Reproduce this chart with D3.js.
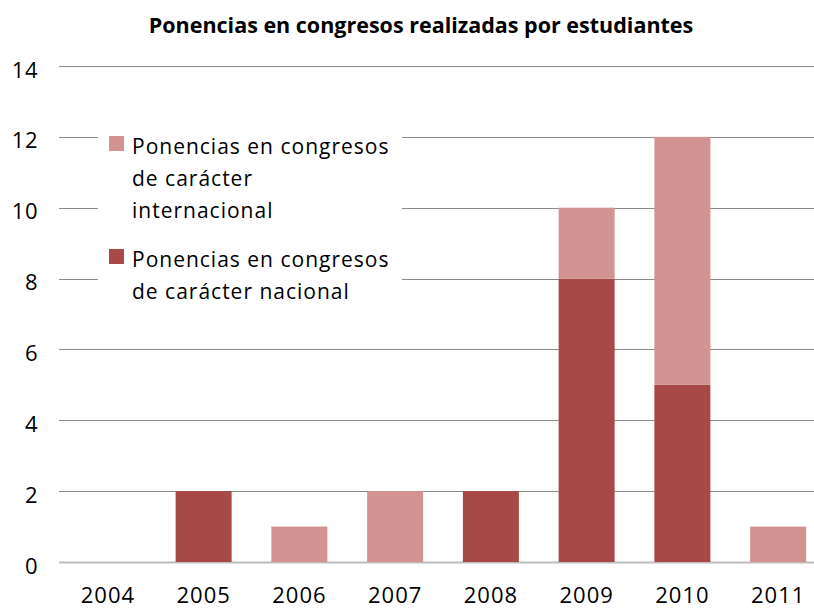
<!DOCTYPE html>
<html>
<head>
<meta charset="utf-8">
<script src="https://cdn.jsdelivr.net/npm/d3@7"></script>
<style>
  body { margin: 0; background: #fff; }
  svg { display: block; font-family: "Open Sans", sans-serif; }
</style>
</head>
<body>
<svg id="chart"></svg>
<script>
// data
var years = ["2004", "2005", "2006", "2007", "2008", "2009", "2010", "2011"];
var nacional = [0, 2, 0, 0, 2, 8, 5, 0];
var internacional = [0, 0, 1, 2, 0, 2, 7, 1];
var yTicks = [0, 2, 4, 6, 8, 10, 12, 14];
var seriesNames = ["Ponencias en congresos de carácter nacional",
                   "Ponencias en congresos de carácter internacional"];
var legendLines = [
  ["Ponencias en congresos", "de carácter", "internacional"],
  ["Ponencias en congresos", "de carácter nacional"]
];

var screen = {width: 814, height: 613};
var margins = {top: 66, left: 60, bottom: 51};
var colors = {nac: "#a94947", int: "#d29392"};

var svg = d3.select("#chart")
            .attr("width", screen.width)
            .attr("height", screen.height);

var rows = years.map(function(y, i) {
  return {year: y, nac: nacional[i], int: internacional[i]};
});

var xScale = d3.scaleBand()
               .domain(years)
               .range([margins.left, 826])
               .paddingInner(0.415)
               .paddingOuter(0.2075);

var yScale = d3.scaleLinear()
               .domain([0, 14])
               .range([screen.height - margins.bottom, margins.top]);

// gridlines
svg.append("g")
   .selectAll("line")
   .data(yTicks)
   .enter()
   .append("line")
   .attr("x1", margins.left - 1)
   .attr("x2", screen.width)
   .attr("y1", function(d) { return Math.round(yScale(d)) + 0.5; })
   .attr("y2", function(d) { return Math.round(yScale(d)) + 0.5; })
   .attr("stroke", function(d) { return d == 0 ? "#bdbdbd" : "#8a8a8a"; })
   .attr("stroke-width", function(d) { return d == 0 ? 2 : 1; });

// y axis labels
var yAxis = d3.axisLeft(yScale).tickValues(yTicks).tickSize(0).tickPadding(0);
svg.append("g")
   .attr("transform", "translate(38,4)")
   .call(yAxis)
   .call(function(g) { g.select(".domain").remove(); })
   .selectAll("text")
   .attr("font-family", "Open Sans, sans-serif")
   .attr("font-size", 22)
   .attr("letter-spacing", 0.5)
   .attr("fill", "#000");

// x axis labels
var xAxis = d3.axisBottom(xScale).tickSize(0).tickPadding(0);
svg.append("g")
   .attr("transform", "translate(0,587)")
   .call(xAxis)
   .call(function(g) { g.select(".domain").remove(); })
   .selectAll("text")
   .attr("font-family", "Open Sans, sans-serif")
   .attr("font-size", 22)
   .attr("letter-spacing", 1)
   .attr("fill", "#000");

// stacked bars
var stack = d3.stack().keys(["nac", "int"]);
var layers = stack(rows);

svg.append("g")
   .selectAll("g")
   .data(layers)
   .enter()
   .append("g")
   .attr("fill", function(d) { return colors[d.key]; })
   .selectAll("rect")
   .data(function(d) { return d; })
   .enter()
   .append("rect")
   .attr("x", function(d) { return xScale(d.data.year); })
   .attr("width", xScale.bandwidth())
   .attr("y", function(d) { return yScale(d[1]); })
   .attr("height", function(d) { return yScale(d[0]) - yScale(d[1]); });

// title
svg.append("text")
   .attr("x", 421)
   .attr("y", 33)
   .attr("text-anchor", "middle")
   .attr("font-weight", "bold")
   .attr("font-size", 21.5)
   .attr("fill", "#000")
   .text("Ponencias en congresos realizadas por estudiantes");

// legend (white box covers the gridlines)
var legend = svg.append("g");
legend.append("rect")
      .attr("x", 98).attr("y", 124)
      .attr("width", 304).attr("height", 182)
      .attr("fill", "#fff");

var legendItems = [
  {color: colors.int, y: 136, lines: legendLines[0], name: seriesNames[1]},
  {color: colors.nac, y: 249, lines: legendLines[1], name: seriesNames[0]}
];

var item = legend.selectAll("g.item")
                 .data(legendItems)
                 .enter()
                 .append("g")
                 .attr("class", "item");

item.append("rect")
    .attr("x", 109)
    .attr("y", function(d) { return d.y; })
    .attr("width", 15)
    .attr("height", 15)
    .attr("fill", function(d) { return d.color; });

item.append("text")
    .attr("font-size", 21)
    .attr("letter-spacing", 1)
    .attr("fill", "#000")
    .selectAll("tspan")
    .data(function(d) { return d.lines.map(function(l, i) { return {t: l, y: d.y + 18 + i * 32}; }); })
    .enter()
    .append("tspan")
    .attr("x", 132)
    .attr("y", function(d) { return d.y; })
    .text(function(d) { return d.t; });
</script>
</body>
</html>
